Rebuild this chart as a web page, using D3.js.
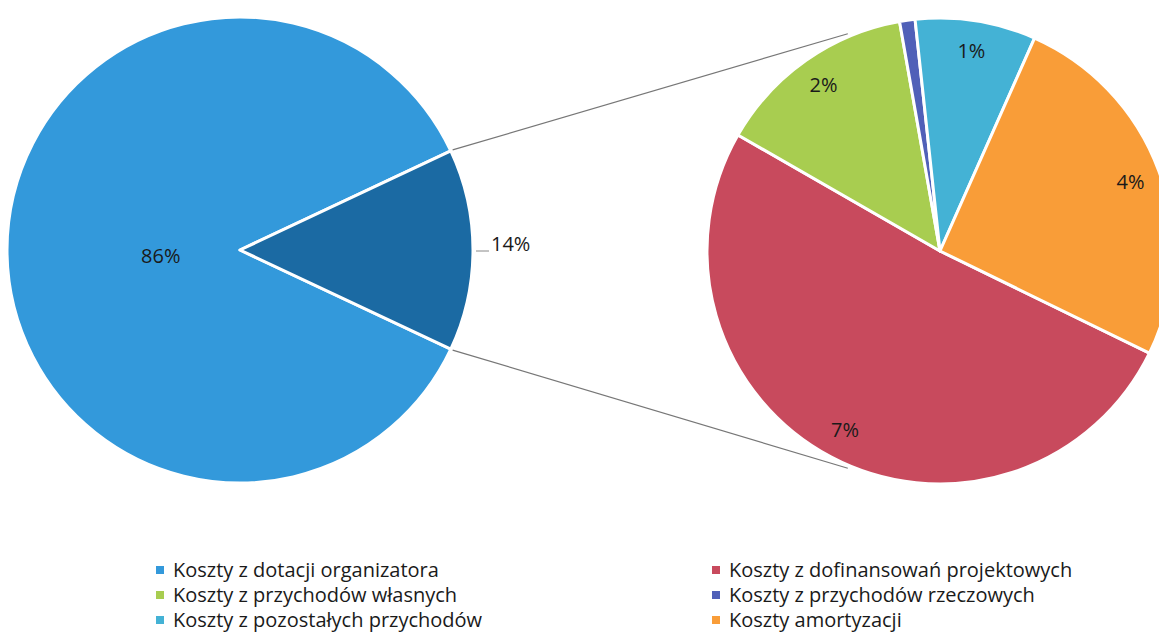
<!DOCTYPE html>
<html>
<head>
<meta charset="utf-8">
<script src="https://cdn.jsdelivr.net/npm/d3@7"></script>
<style>
  body { margin: 0; background: #fff; }
  text { font-family: "Open Sans", sans-serif; }
</style>
</head>
<body>
<svg id="chart" width="1159" height="632"></svg>
<script>
// data (percent of total costs)
var categories = ['Koszty z dotacji organizatora', 'Koszty z dofinansowań projektowych',
                  'Koszty z przychodów własnych', 'Koszty z przychodów rzeczowych',
                  'Koszty z pozostałych przychodów', 'Koszty amortyzacji'];
var values = [86, 7.15, 1.95, 0.15, 1.17, 3.58];
var colors = ['#3399db', '#c84a5d', '#a8cd50', '#5060b8', '#44b2d5', '#f99d38'];
var otherColor = '#1b6aa3';

var width = 1159;
var height = 632;

var svg = d3.select('#chart');
var fmt = d3.format('.0%');
var total = d3.sum(values);

// first pie: main slice + "other" slice made of the rest
var mainVal = values[0];
var restVals = values.slice(1);
var restSum = d3.sum(restVals);
var share = restSum / total;

var left = {cx: 240, cy: 250, r: 233};
var right = {cx: 940, cy: 251, r: 233};

var pie1 = d3.pie().sort(null).value(function (d) { return d.v; })
    .startAngle(Math.PI / 2 + share * Math.PI)
    .endAngle(Math.PI / 2 + share * Math.PI + 2 * Math.PI);
var arc1 = d3.arc().innerRadius(0).outerRadius(left.r);

var firstData = [{v: mainVal, c: colors[0]}, {v: restSum, c: otherColor}];
var g1 = svg.append('g').attr('transform', 'translate(' + left.cx + ',' + left.cy + ')');
var arcs1 = pie1(firstData);

g1.selectAll('path')
    .data(arcs1)
    .enter()
    .append('path')
    .attr('d', arc1)
    .attr('fill', function (d) { return d.data.c; })
    .attr('stroke', '#fff')
    .attr('stroke-width', 3)
    .attr('stroke-linejoin', 'round');

// label of the big slice (inside)
var big = arcs1[0];
var bigMid = (big.startAngle + big.endAngle) / 2;
g1.append('text')
    .attr('x', Math.sin(bigMid) * left.r * 0.34)
    .attr('y', -Math.cos(bigMid) * left.r * 0.34 + 6)
    .attr('dy', '0.35em')
    .attr('text-anchor', 'middle')
    .attr('font-size', 20)
    .attr('fill', '#1a1a1a')
    .text(fmt(mainVal / total));

// label of the "other" slice (outside, with small leader)
var oth = arcs1[1];
var othMid = (oth.startAngle + oth.endAngle) / 2;
var lx = Math.sin(othMid), ly = -Math.cos(othMid);
g1.append('line')
    .attr('x1', lx * (left.r + 3)).attr('y1', ly * (left.r + 3) + 1)
    .attr('x2', lx * (left.r + 16)).attr('y2', ly * (left.r + 16) + 1)
    .attr('stroke', '#888')
    .attr('stroke-width', 1);
g1.append('text')
    .attr('x', lx * (left.r + 18))
    .attr('y', ly * (left.r + 18) - 6)
    .attr('dy', '0.35em')
    .attr('text-anchor', 'start')
    .attr('font-size', 20)
    .attr('fill', '#1a1a1a')
    .text(fmt(restSum / total));

// connector lines from "other" slice to second pie
function pt(c, r, a) {
    return [c.cx + Math.sin(a) * r, c.cy - Math.cos(a) * r];
}
var tilt = 23 * Math.PI / 180;
var conn = [
    [pt(left, left.r + 2, oth.startAngle), pt(right, right.r + 3, -tilt)],
    [pt(left, left.r + 2, oth.endAngle), pt(right, right.r + 3, Math.PI + tilt)]
];
svg.selectAll('line.conn')
    .data(conn)
    .enter()
    .append('line')
    .attr('class', 'conn')
    .attr('x1', function (d) { return d[0][0]; })
    .attr('y1', function (d) { return d[0][1]; })
    .attr('x2', function (d) { return d[1][0]; })
    .attr('y2', function (d) { return d[1][1]; })
    .attr('stroke', '#777')
    .attr('stroke-width', 1.2);

// second pie
var start2 = 116 * Math.PI / 180;
var pie2 = d3.pie().sort(null).value(function (d) { return d.v; })
    .startAngle(start2).endAngle(start2 + 2 * Math.PI);
var arc2 = d3.arc().innerRadius(0).outerRadius(right.r);

var secondData = restVals.map(function (v, i) { return {v: v, c: colors[i + 1]}; });
var g2 = svg.append('g').attr('transform', 'translate(' + right.cx + ',' + right.cy + ')');
var arcs2 = pie2(secondData);

g2.selectAll('path')
    .data(arcs2)
    .enter()
    .append('path')
    .attr('d', arc2)
    .attr('fill', function (d) { return d.data.c; })
    .attr('stroke', '#fff')
    .attr('stroke-width', 3)
    .attr('stroke-linejoin', 'round');

g2.selectAll('text')
    .data(arcs2.filter(function (d) { return d.data.v / total >= 0.005; }))
    .enter()
    .append('text')
    .attr('x', function (d) { return Math.sin((d.startAngle + d.endAngle) / 2) * right.r * 0.87; })
    .attr('y', function (d) { return -Math.cos((d.startAngle + d.endAngle) / 2) * right.r * 0.87; })
    .attr('dy', '0.35em')
    .attr('text-anchor', 'middle')
    .attr('font-size', 20)
    .attr('fill', '#1a1a1a')
    .text(function (d) { return fmt(d.data.v / total); });

// legend, two columns, row by row
var legend = svg.append('g');
var item = legend.selectAll('g')
    .data(categories)
    .enter()
    .append('g')
    .attr('transform', function (d, i) {
        var col = i % 2, row = Math.floor(i / 2);
        return 'translate(' + (col === 0 ? 156 : 712) + ',' + (570 + row * 25) + ')';
    });
item.append('rect')
    .attr('x', 0).attr('y', -4)
    .attr('width', 8).attr('height', 8)
    .attr('fill', function (d, i) { return colors[i]; });
item.append('text')
    .attr('x', 17)
    .attr('dy', '0.35em')
    .attr('font-size', 20)
    .attr('fill', '#1a1a1a')
    .text(function (d) { return d; });
</script>
</body>
</html>
